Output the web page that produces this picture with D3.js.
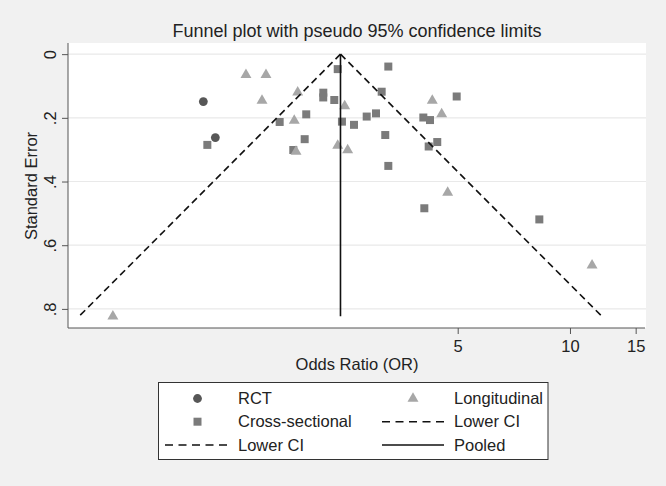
<!DOCTYPE html>
<html>
<head>
<meta charset="utf-8">
<script src="https://cdn.jsdelivr.net/npm/d3@7/dist/d3.min.js"></script>
<style>
  html, body { margin: 0; padding: 0; background: #f1f1f1; }
  svg { display: block; }
  text { font-family: "Liberation Sans", Arial, Helvetica, sans-serif; fill: #222; }
</style>
</head>
<body>
<svg id="chart" width="666" height="486"></svg>
<script>
// ---- data (odds ratio, standard error) ----
const rctOR  = [1.04, 1.12];
const rctSE  = [0.149, 0.262];

const crossOR = [1.066, 2.384, 2.181, 2.18, 2.334, 1.963, 1.666, 2.447, 2.636, 2.851, 3.019, 3.258,
                 3.127, 1.944, 1.812, 3.197, 3.258, 4.969, 4.044, 4.214, 4.407, 4.180, 4.069, 8.276];
const crossSE = [0.285, 0.047, 0.121, 0.136, 0.144, 0.189, 0.213, 0.212, 0.222, 0.196, 0.186, 0.039,
                 0.118, 0.267, 0.301, 0.254, 0.351, 0.133, 0.199, 0.207, 0.276, 0.290, 0.484, 0.519];

const longOR = [1.353, 1.531, 1.494, 1.862, 2.489, 1.823, 1.843, 2.384, 2.535, 4.274, 4.529, 4.700, 11.46, 0.595];
const longSE = [0.065, 0.065, 0.146, 0.120, 0.163, 0.209, 0.306, 0.287, 0.301, 0.146, 0.188, 0.435, 0.663, 0.823];

const pooledOR = 2.425;
const xTicks = [5, 10, 15];
const yTicks = [0, 0.2, 0.4, 0.6, 0.8];
const yTickLabels = ["0", ".2", ".4", ".6", ".8"];

const titleText = "Funnel plot with pseudo 95% confidence limits";
const xTitle = "Odds Ratio (OR)";
const yTitle = "Standard Error";
const legendLabels = ["RCT", "Longitudinal", "Cross-sectional", "Lower CI", "Lower CI", "Pooled"];

// ---- layout ----
const svg = d3.select("#chart");
const plot = { left: 68, right: 646, top: 43, bottom: 328 };

const x = d3.scaleLog().domain([0.451, 15.89]).range([plot.left, 645]);
const y = d3.scaleLinear().domain([-0.035, 0.86]).range([plot.top, plot.bottom]);

const colRCT = "#575757", colCross = "#7b7b7b", colLong = "#a7a7a7";

// plot background
svg.append("rect").attr("x", plot.left).attr("y", plot.top)
  .attr("width", plot.right - plot.left).attr("height", plot.bottom - plot.top)
  .attr("fill", "#ffffff");

// gridlines
svg.append("g").selectAll("line").data(yTicks).join("line")
  .attr("x1", plot.left).attr("x2", plot.right)
  .attr("y1", d => y(d)).attr("y2", d => y(d))
  .attr("stroke", "#e9e9e9").attr("stroke-width", 1.2);

// axes
const yAxis = d3.axisLeft(y).tickValues(yTicks).tickSize(6).tickFormat((d, i) => yTickLabels[i]);
const gy = svg.append("g").attr("transform", `translate(${plot.left},0)`).call(yAxis);
gy.select(".domain").attr("d", `M0,${plot.top}V${plot.bottom}`).attr("stroke", "#555");
gy.selectAll(".tick line").attr("stroke", "#555");
gy.selectAll(".tick text")
  .attr("x", 0).attr("y", 0).attr("dy", "0.35em")
  .attr("transform", "translate(-18,0) rotate(-90)")
  .attr("text-anchor", "middle")
  .style("font-size", "16.5px").style("font-family", "Liberation Sans, Arial, sans-serif").attr("fill", "#222");

const xAxis = d3.axisBottom(x).tickValues(xTicks).tickSize(6).tickFormat(d3.format("d"));
const gx = svg.append("g").attr("transform", `translate(0,${plot.bottom})`).call(xAxis);
gx.select(".domain").attr("d", `M${plot.left},0H645`).attr("stroke", "#555");
gx.selectAll(".tick line").attr("stroke", "#555");
gx.selectAll(".tick text").attr("y", 12).attr("dy", "0.71em")
  .style("font-size", "16.5px").style("font-family", "Liberation Sans, Arial, sans-serif").attr("fill", "#222");

// titles
svg.append("text").attr("x", 357).attr("y", 37).attr("text-anchor", "middle")
  .style("font-size", "18px").text(titleText);
svg.append("text").attr("x", 357).attr("y", 370).attr("text-anchor", "middle")
  .style("font-size", "16.5px").text(xTitle);
svg.append("text").attr("transform", "translate(37,186) rotate(-90)").attr("text-anchor", "middle")
  .style("font-size", "16.5px").text(yTitle);

// markers
const sq = d3.symbol().type(d3.symbolSquare).size(64);
const tri = d3.symbol().type(d3.symbolTriangle).size(52);

svg.append("g").selectAll("circle").data(rctOR.map((d, i) => [d, rctSE[i]])).join("circle")
  .attr("cx", d => x(d[0])).attr("cy", d => y(d[1])).attr("r", 4.4).attr("fill", colRCT);

svg.append("g").selectAll("path").data(crossOR.map((d, i) => [d, crossSE[i]])).join("path")
  .attr("d", sq).attr("transform", d => `translate(${x(d[0])},${y(d[1])})`).attr("fill", colCross);

svg.append("g").selectAll("path").data(longOR.map((d, i) => [d, longSE[i]])).join("path")
  .attr("d", tri).attr("transform", d => `translate(${x(d[0])},${y(d[1])})`).attr("fill", colLong);

// funnel lines
const allSE = rctSE.concat(crossSE, longSE);
const seMax = d3.max(allSE);
const z = 1.96;
const lowerPts = [[pooledOR, 0], [pooledOR * Math.exp(-z * seMax), seMax]];
const upperPts = [[pooledOR, 0], [pooledOR * Math.exp(z * seMax), seMax]];
const pooledPts = [[pooledOR, 0], [pooledOR, seMax]];
const line = d3.line().x(d => x(d[0])).y(d => y(d[1]));

svg.append("path").attr("d", line(lowerPts)).attr("fill", "none")
  .attr("stroke", "#111").attr("stroke-width", 1.6).attr("stroke-dasharray", "7,4.3");
svg.append("path").attr("d", line(upperPts)).attr("fill", "none")
  .attr("stroke", "#111").attr("stroke-width", 1.6).attr("stroke-dasharray", "7,4.3");
svg.append("path").attr("d", line(pooledPts)).attr("fill", "none")
  .attr("stroke", "#111").attr("stroke-width", 1.6);

// legend
const lg = svg.append("g");
lg.append("rect").attr("x", 158.5).attr("y", 382.5).attr("width", 389.5).attr("height", 77)
  .attr("fill", "#ffffff").attr("stroke", "#333").attr("stroke-width", 1);

const rows = [398.5, 421.7, 445];
const c1sym = 197.5, c1txt = 238, c2sym = 413, c2txt = 454;
lg.append("circle").attr("cx", c1sym).attr("cy", rows[0]).attr("r", 4.4).attr("fill", colRCT);
lg.append("path").attr("d", tri).attr("transform", `translate(${c2sym},${rows[0]})`).attr("fill", colLong);
lg.append("path").attr("d", sq).attr("transform", `translate(${c1sym},${rows[1]})`).attr("fill", colCross);
lg.append("line").attr("x1", 382).attr("x2", 444).attr("y1", rows[1]).attr("y2", rows[1])
  .attr("stroke", "#111").attr("stroke-width", 1.6).attr("stroke-dasharray", "8,5.5");
lg.append("line").attr("x1", 165).attr("x2", 228).attr("y1", rows[2]).attr("y2", rows[2])
  .attr("stroke", "#111").attr("stroke-width", 1.6).attr("stroke-dasharray", "8,5.5");
lg.append("line").attr("x1", 382).attr("x2", 444).attr("y1", rows[2]).attr("y2", rows[2])
  .attr("stroke", "#111").attr("stroke-width", 1.6);

const legPos = [[c1txt, rows[0]], [c2txt, rows[0]], [c1txt, rows[1]], [c2txt, rows[1]], [c1txt, rows[2]], [c2txt, rows[2]]];
lg.selectAll("text.leg").data(legendLabels).join("text").attr("class", "leg")
  .attr("x", (d, i) => legPos[i][0]).attr("y", (d, i) => legPos[i][1]).attr("dy", "0.35em")
  .style("font-size", "16.5px").text(d => d);
</script>
</body>
</html>
